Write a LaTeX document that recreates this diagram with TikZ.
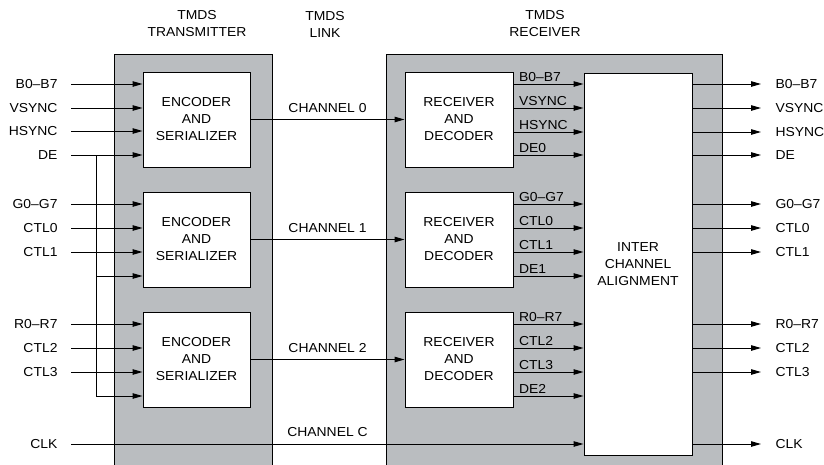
\documentclass[tikz,border=0pt]{standalone}
\usepackage{fontspec}
\setmainfont{Liberation Sans}[FakeStretch=1.07]
\usetikzlibrary{positioning,arrows.meta,calc}
\definecolor{panelgray}{RGB}{186,189,192}

\begin{document}
\begin{tikzpicture}[x=1pt,y=-1pt,line width=1pt,
        every node/.style={font=\fontsize{13}{17}\selectfont},
        blk/.style={draw,fill=white,align=center,inner sep=0pt},
        sig/.style={-{Triangle[length=10pt,width=5.5pt]}},
        lbl/.style={inner sep=0pt,text height=9pt,text depth=0pt}]
        \useasboundingbox (0,0) rectangle (824,464);
        \clip (0,0) rectangle (824,464);
        \draw[fill=panelgray] (114,54) rectangle (272,480);
        \draw[fill=panelgray] (386,54) rectangle (722,480);
        \node[align=center] (ttx) at (197,24) {TMDS\\TRANSMITTER};
        \node[align=center] (tlink) at (325,24) {TMDS\\LINK};
        \node[align=center] (trx) at (545,24) {TMDS\\RECEIVER};
        \foreach \i/\y in {0/119.5,1/239.5,2/359.5}{
            \node[blk,minimum width=107pt,minimum height=95pt] (enc\i) at (196.5,\y) {ENCODER\\AND\\SERIALIZER};
            \node[blk,minimum width=108pt,minimum height=95pt] (dec\i) at (459,\y) {RECEIVER\\AND\\DECODER};
            \draw[sig] (enc\i.east) -- (dec\i.west) node[lbl,midway,above=7pt] {CHANNEL \i};
        }
        \node[blk,minimum width=108pt,minimum height=382pt] (align) at (638,264) {INTER\\CHANNEL\\ALIGNMENT};
        \foreach \n/\t/\y/\b in {a/B0--B7/84/enc0,b/VSYNC/108/enc0,c/HSYNC/131/enc0,de/DE/155/enc0,
                e/G0--G7/204/enc1,f/CTL0/228/enc1,g/CTL1/252/enc1,
                h/R0--R7/324/enc2,i/CTL2/348/enc2,j/CTL3/372/enc2}{
            \node[lbl,anchor=east] (in\n) at (58,\y) {\t};
            \draw[sig] ([xshift=13pt]in\n.east) -- (\b.west |- in\n);
        }
        \coordinate (br) at ($(inde.east)+(38,0)$);
        \coordinate (t1) at (br |- 0,276);
        \coordinate (t2) at (br |- 0,396);
        \draw (br) -- (t2);
        \draw[sig] (t1) -- (enc1.west |- t1);
        \draw[sig] (t2) -- (enc2.west |- t2);
        \node[lbl,anchor=east] (inclk) at (58,444) {CLK};
        \draw[sig] ([xshift=13pt]inclk.east) -- (align.west |- inclk);
        \coordinate (mid2) at ($(enc2.east)!0.5!(dec2.west)$);
        \node[lbl,above=7pt] (chc) at (mid2 |- inclk) {CHANNEL C};
        \foreach \t/\y/\b in {B0--B7/84/dec0,VSYNC/108/dec0,HSYNC/132/dec0,DE0/155/dec0,
                G0--G7/204/dec1,CTL0/228/dec1,CTL1/252/dec1,DE1/276/dec1,
                R0--R7/324/dec2,CTL2/348/dec2,CTL3/372/dec2,DE2/396/dec2}{
            \draw[sig] (\b.east |- 0,\y) -- (align.west |- 0,\y)
                node[lbl,pos=0,anchor=south west,xshift=5pt,yshift=2pt] {\t};
        }
        \foreach \n/\t/\y in {a/B0--B7/84,b/VSYNC/108,c/HSYNC/132,de/DE/155,
                e/G0--G7/204,f/CTL0/228,g/CTL1/252,
                h/R0--R7/324,i/CTL2/348,j/CTL3/372,clk/CLK/444}{
            \node[lbl,anchor=west] (out\n) at (775,\y) {\t};
            \draw[sig] (align.east |- out\n) -- ([xshift=-14pt]out\n.west);
        }
\end{tikzpicture}
\end{document}
